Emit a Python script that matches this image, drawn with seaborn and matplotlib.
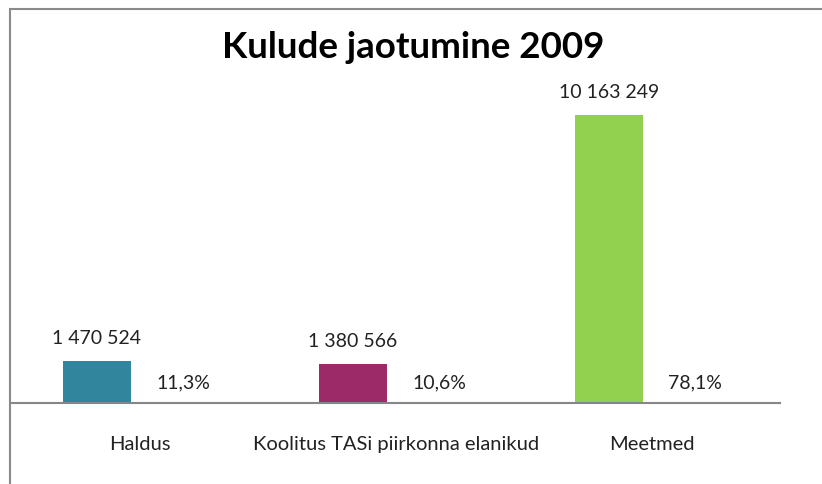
import pandas as pd
import matplotlib.pyplot as plt
import seaborn as sns
from matplotlib.patches import Rectangle

# Data
kategooriad = ['Haldus', 'Koolitus TASi piirkonna elanikud', 'Meetmed']
summad = [1470524, 1380566, 10163249]
osakaalud = [11.3, 10.6, 78.1]
varvid = ['#31859C', '#9C2A69', '#92D050']

sns.set_style('white')
plt.rcParams['font.family'] = ['Lato', 'DejaVu Sans']

# the share series is drawn as zero-height bars (only its labels show), as in the Excel chart
df = pd.concat([
    pd.DataFrame({'kategooria': kategooriad, 'vaartus': summad, 'seeria': 'Summa'}),
    pd.DataFrame({'kategooria': kategooriad, 'vaartus': [0] * 3, 'seeria': 'Osakaal'}),
])

fig = plt.figure(figsize=(8.22, 4.85), dpi=100)
ax = fig.add_axes([12 / 822, 81 / 485, 768 / 822, 340 / 485])

sns.barplot(data=df, x='kategooria', y='vaartus', hue='seeria',
            hue_order=['Summa', 'Osakaal'], width=0.672, gap=0.21,
            legend=False, ax=ax)

for patch, c in zip(ax.containers[0], varvid):
    patch.set_facecolor(c)
    patch.set_edgecolor('none')
for patch in ax.containers[1]:
    patch.set_visible(False)

ax.bar_label(ax.containers[0],
             labels=[f"{v:,.0f}".replace(',', ' ') for v in summad],
             padding=11, fontsize=14, color='#222222')
ax.bar_label(ax.containers[1],
             labels=[f"{p:.1f}%".replace('.', ',') for p in osakaalud],
             padding=9, fontsize=14, color='#222222')

ax.set_xlim(-0.5, 2.5)
ax.set_ylim(0, 12000000)
ax.set_xlabel('')
ax.set_ylabel('')
ax.set_yticks([])
ax.tick_params(axis='x', length=0, pad=23, labelsize=14.5, labelcolor='#222222')
for s in ['top', 'left', 'right']:
    ax.spines[s].set_visible(False)
ax.spines['bottom'].set_color('#868686')
ax.spines['bottom'].set_linewidth(1.5)

fig.text(413 / 822, 1 - 48 / 485, 'Kulude jaotumine 2009', ha='center', va='center',
         fontsize=26.5, fontweight='bold', color='black')

# chart area border (runs off the right and bottom of the picture)
fig.add_artist(Rectangle((10 / 822, -0.1), 1.0, 1.1 - 10 / 485, transform=fig.transFigure,
                         fill=False, edgecolor='#8a8a8a', linewidth=1.5))

fig.savefig('out.png', dpi=100)
